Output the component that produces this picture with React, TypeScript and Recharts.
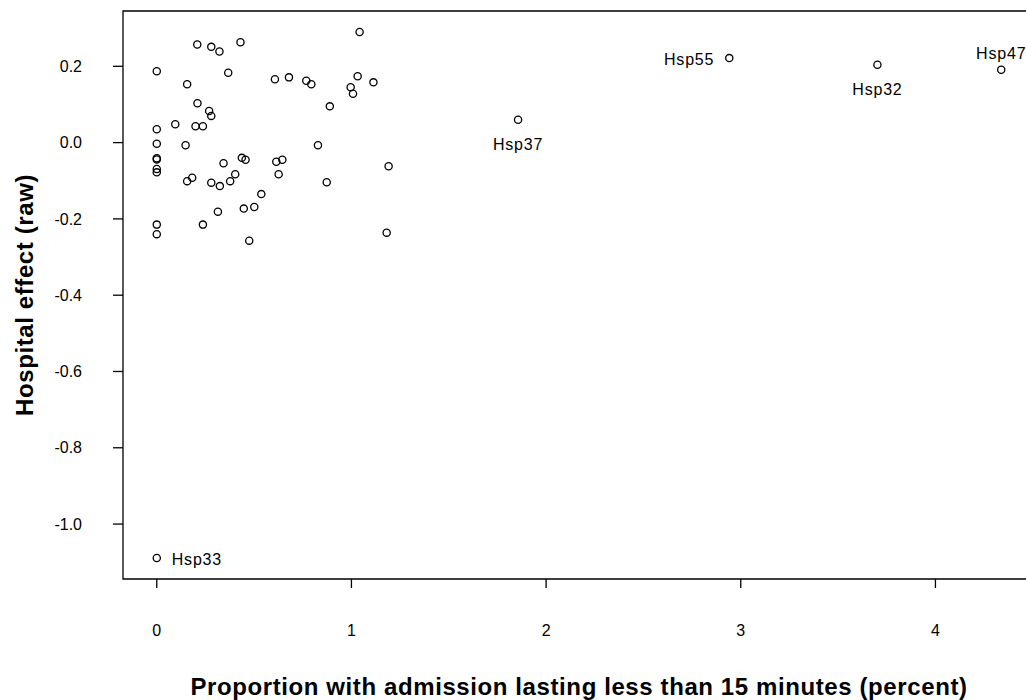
import React from 'react';
import { ScatterChart, Scatter, XAxis, YAxis, ReferenceArea } from 'recharts';

// hospitals without a label
const proportion = [
  1.042, 0.208, 0.28, 0.322, 0.43, 0, 0.367, 0.156, 0.607, 0.679, 0.768, 0.794, 1.032, 0.996, 1.008, 1.113,
  0.209, 0.269, 0.28, 0.889, 0, 0.095, 0.199, 0.237, 0, 0.148, 0.828, 0, 0, 0, 0, 0.343, 0.437, 0.456, 0.614,
  0.645, 1.191, 0.156, 0.182, 0.28, 0.324, 0.377, 0.403, 0.626, 0.873, 0.537, 0.314, 0.447, 0.501, 0, 0, 0.237,
  0.475, 1.181,
];
const effect = [
  0.29, 0.257, 0.251, 0.239, 0.263, 0.187, 0.183, 0.153, 0.166, 0.171, 0.162, 0.153, 0.174, 0.145, 0.128, 0.158,
  0.103, 0.083, 0.07, 0.095, 0.035, 0.048, 0.043, 0.043, -0.003, -0.007, -0.007, -0.041, -0.044, -0.069, -0.078,
  -0.054, -0.04, -0.045, -0.05, -0.045, -0.062, -0.101, -0.092, -0.105, -0.114, -0.101, -0.083, -0.083, -0.104,
  -0.135, -0.181, -0.173, -0.169, -0.215, -0.24, -0.215, -0.257, -0.236,
];

// named outliers
const outlierNames = ['Hsp37', 'Hsp55', 'Hsp32', 'Hsp47', 'Hsp33'];
const outlierProportion = [1.856, 2.941, 3.702, 4.338, 0];
const outlierEffect = [0.06, 0.2215, 0.204, 0.191, -1.089];

const xTicks = [0, 1, 2, 3, 4];
const yTicks = [-1.0, -0.8, -0.6, -0.4, -0.2, 0.0, 0.2];

const X_DOMAIN: [number, number] = [-0.1735, 4.5115];
const Y_DOMAIN: [number, number] = [-1.144, 0.345];

// where each outlier's label sits relative to its point
const LABEL_SIDE: Record<string, 'below' | 'above' | 'left' | 'right'> = {
  Hsp37: 'below',
  Hsp55: 'left',
  Hsp32: 'below',
  Hsp47: 'above',
  Hsp33: 'right',
};

const points = proportion.map((x, i) => ({ x, y: effect[i] }));
const outliers = outlierNames.map((name, i) => ({ name, x: outlierProportion[i], y: outlierEffect[i] }));

const FONT = '"Liberation Sans", Arial, sans-serif';

const Ring = (props: any) => (
  <circle cx={props.cx} cy={props.cy} r={3.6} fill="none" stroke="#000" strokeWidth={1.3} />
);

const LabelledRing = (props: any) => {
  const { cx, cy, payload } = props;
  const side = LABEL_SIDE[payload.name];
  let tx = cx;
  let ty = cy;
  let anchor: 'start' | 'middle' | 'end' = 'middle';
  if (side === 'below') ty = cy + 30;
  if (side === 'above') ty = cy - 11;
  if (side === 'left') {
    tx = cx - 15;
    ty = cy + 6.5;
    anchor = 'end';
  }
  if (side === 'right') {
    tx = cx + 15;
    ty = cy + 6.5;
    anchor = 'start';
  }
  return (
    <g>
      <circle cx={cx} cy={cy} r={3.6} fill="none" stroke="#000" strokeWidth={1.3} />
      <text x={tx} y={ty} textAnchor={anchor} fontSize={16} letterSpacing={0.8} fill="#000" fontFamily={FONT}>
        {payload.name}
      </text>
    </g>
  );
};

export default function App() {
  return (
    <div
      style={{
        position: 'absolute',
        left: 0,
        top: 0,
        width: 1026,
        height: 700,
        overflow: 'hidden',
        background: '#fff',
        fontFamily: FONT,
      }}
    >
      <ScatterChart width={1040} height={700} margin={{ top: 11, right: 5, bottom: 0, left: 0 }}>
        <XAxis
          type="number"
          dataKey="x"
          domain={X_DOMAIN}
          ticks={xTicks}
          allowDataOverflow
          height={121}
          axisLine={false}
          tickLine={{ stroke: '#000', strokeWidth: 1.3 }}
          tickSize={9}
          tickMargin={37}
          tick={{ fill: '#000', fontSize: 16, fontFamily: FONT }}
          label={{
            value: 'Proportion with admission lasting less than 15 minutes (percent)',
            position: 'insideBottom',
            offset: 5,
            style: { fontSize: 24, fontWeight: 'bold', fill: '#000', letterSpacing: 0.6, fontFamily: FONT },
          }}
        />
        <YAxis
          type="number"
          dataKey="y"
          domain={Y_DOMAIN}
          ticks={yTicks}
          allowDataOverflow
          width={123}
          axisLine={false}
          tickLine={{ stroke: '#000', strokeWidth: 1.3 }}
          tickSize={10}
          tickMargin={31}
          tickFormatter={(v: number) => v.toFixed(1)}
          tick={{ fill: '#000', fontSize: 16, fontFamily: FONT }}
          label={{
            value: 'Hospital effect (raw)',
            angle: -90,
            position: 'insideLeft',
            offset: 24,
            style: {
              textAnchor: 'middle',
              fontSize: 24,
              fontWeight: 'bold',
              fill: '#000',
              letterSpacing: 0.6,
              fontFamily: FONT,
            },
          }}
        />
        <ReferenceArea
          x1={X_DOMAIN[0]}
          x2={X_DOMAIN[1]}
          y1={Y_DOMAIN[0]}
          y2={Y_DOMAIN[1]}
          fill="none"
          stroke="#000"
          strokeWidth={1.3}
          ifOverflow="extendDomain"
        />
        <Scatter data={points} shape={Ring} isAnimationActive={false} />
        <Scatter data={outliers} shape={LabelledRing} isAnimationActive={false} />
      </ScatterChart>
    </div>
  );
}
